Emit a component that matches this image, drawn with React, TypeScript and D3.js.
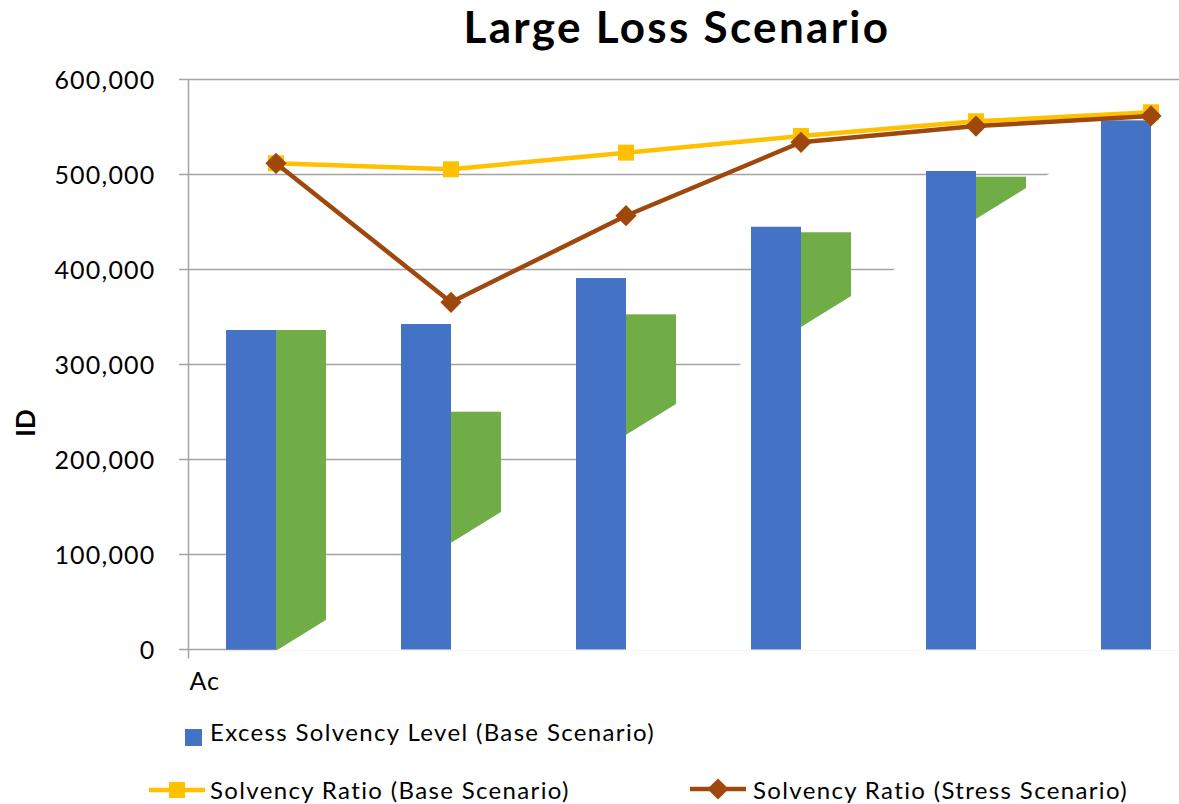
import React from "react";
import * as d3 from "d3";

const categoryLabels = ["Ac", "", "", "", "", ""];
const excessBase = [336300, 342600, 391000, 445000, 503700, 557000];
const excessStress = [336300, 250300, 352800, 439200, 497700, 548000];
const ratioBase = [511800, 505500, 523000, 540500, 556000, 565500];
const ratioStress = [511800, 365500, 456600, 533900, 551000, 561600];
const yTicks = [0, 100000, 200000, 300000, 400000, 500000, 600000];

const W = 1179;
const H = 804;
const BLUE = "#4472C4";
const GREEN = "#70AD47";
const YELLOW = "#FFC000";
const BROWN = "#9E480E";
const GRID = "#A3A3A3";
const FONT = "Lato, 'Noto Sans', sans-serif";

export default function App() {
  const x0 = 188.5;
  const band = 175;
  const x = d3
    .scaleBand<number>()
    .domain(categoryLabels.map((_, i) => i))
    .range([x0, x0 + band * categoryLabels.length])
    .padding(0);
  const y = d3.scaleLinear().domain([0, 600000]).range([649.5, 79.5]);
  const barW = 50;
  const cx = (i: number) => (x(i) as number) + x.bandwidth() / 2;
  const plotRight = x0 + band * categoryLabels.length;

  const lineGen = d3
    .line<number>()
    .x((_, i) => cx(i))
    .y((d) => y(d));

  // white occluding wedge (rendering artefact of the original chart)
  const slope = (y(300000) - y(400000)) / (894 - 740);
  const bx = (py: number) => 740 + (y(300000) - py) / slope;
  const wedge: [number, number][] = [
    [bx(y(0) + 1), y(0) + 1],
    [bx(40), 40],
    [plotRight + 50, 40],
    [plotRight + 50, y(0) + 1],
  ];

  const diamond = d3.symbol().type(d3.symbolSquare).size(15 * 15)();

  return (
    <svg
      width={W}
      height={H}
      style={{ position: "absolute", left: 0, top: 0, background: "#fff" }}
      fontFamily={FONT}
    >
      <rect x={0} y={0} width={W} height={H} fill="#fff" />
      <text
        x={677}
        y={43}
        textAnchor="middle"
        fontSize={44}
        fontWeight="bold"
        letterSpacing={2.3}
        fill="#000"
      >
        Large Loss Scenario
      </text>

      {/* gridlines */}
      {yTicks.map((t) => (
        <line
          key={t}
          x1={179}
          x2={plotRight}
          y1={y(t)}
          y2={y(t)}
          stroke={GRID}
          strokeWidth={1.5}
        />
      ))}
      {/* y axis line */}
      <line x1={188.5} x2={188.5} y1={y(600000)} y2={y(0) + 9} stroke={GRID} strokeWidth={1.5} />
      {yTicks.map((t) => (
        <text
          key={"l" + t}
          x={155.5}
          y={y(t)}
          dy="0.36em"
          textAnchor="end"
          fontSize={25}
          letterSpacing={1.2}
          fill="#000"
        >
          {d3.format(",")(t)}
        </text>
      ))}

      {/* green bars (stress) */}
      {excessStress.map((v, i) => (
        <rect
          key={"g" + i}
          x={cx(i)}
          y={y(v)}
          width={barW}
          height={y(0) - y(v)}
          fill={GREEN}
        />
      ))}

      {/* occluding wedge */}
      <polygon points={wedge.map((p) => p.join(",")).join(" ")} fill="#fff" />

      {/* blue bars (base) */}
      {excessBase.map((v, i) => (
        <rect
          key={"b" + i}
          x={cx(i) - barW}
          y={y(v)}
          width={barW}
          height={y(0) - y(v)}
          fill={BLUE}
        />
      ))}

      {/* lines */}
      <path d={lineGen(ratioBase) || ""} fill="none" stroke={YELLOW} strokeWidth={4.5} strokeLinejoin="round" />
      {ratioBase.map((v, i) => (
        <rect key={"ys" + i} x={cx(i) - 8} y={y(v) - 8} width={16} height={16} fill={YELLOW} />
      ))}
      <path d={lineGen(ratioStress) || ""} fill="none" stroke={BROWN} strokeWidth={4.5} strokeLinejoin="round" />
      {ratioStress.map((v, i) => (
        <path
          key={"bd" + i}
          d={diamond || ""}
          transform={`translate(${cx(i)},${y(v)}) rotate(45)`}
          fill={BROWN}
        />
      ))}

      {/* category label */}
      {categoryLabels.map((c, i) =>
        c ? (
          <text key={"c" + i} x={(x(i) as number) + 1} y={690} fontSize={25} letterSpacing={1} fill="#000">
            {c}
          </text>
        ) : null
      )}

      {/* y axis title */}
      <text
        transform={`translate(35,${423}) rotate(-90)`}
        textAnchor="middle"
        fontSize={26}
        fontWeight="bold"
        fill="#000"
      >
        ID
      </text>

      {/* legend */}
      <rect x={185} y={729} width={17} height={17} fill={BLUE} />
      <text x={210} y={741} fontSize={24} letterSpacing={1.35} fill="#000">
        Excess Solvency Level (Base Scenario)
      </text>

      <line x1={149} x2={205} y1={790} y2={790} stroke={YELLOW} strokeWidth={4.5} />
      <rect x={169} y={782} width={16} height={16} fill={YELLOW} />
      <text x={210} y={799} fontSize={24} letterSpacing={1.35} fill="#000">
        Solvency Ratio (Base Scenario)
      </text>

      <line x1={690} x2={746} y1={789} y2={789} stroke={BROWN} strokeWidth={4.5} />
      <path d={diamond || ""} transform={`translate(718,789) rotate(45)`} fill={BROWN} />
      <text x={753} y={799} fontSize={24} letterSpacing={1.35} fill="#000">
        Solvency Ratio (Stress Scenario)
      </text>
    </svg>
  );
}
